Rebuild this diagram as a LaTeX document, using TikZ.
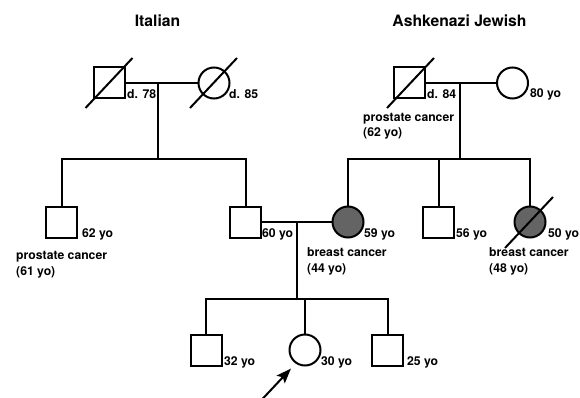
\documentclass[tikz,border=0pt]{standalone}
\usepackage{fontspec}
\setmainfont{TeX Gyre Heros}
\usetikzlibrary{calc,arrows.meta}
\definecolor{affected}{RGB}{100,100,100}
\tikzset{
  ln/.style={line width=2pt},
  male/.style={draw, ln, rectangle, minimum size=31pt, inner sep=0pt, fill=white},
  female/.style={draw, ln, circle, minimum size=31pt, inner sep=0pt, fill=white},
  aff/.style={fill=affected},
  lbl/.style={anchor=base west, inner sep=0pt, font=\fontsize{12.2}{14}\selectfont\bfseries},
  hdr/.style={anchor=base, inner sep=0pt, font=\fontsize{15.7}{18}\selectfont\bfseries},
  slash/.style={ln},
}
\begin{document}
\begin{tikzpicture}[x=1pt,y=-1pt]
\useasboundingbox (0,0) rectangle (580,398);

% headings
\node[hdr] (hIt) at (157.5,26.5) {Italian};
\node[hdr] (hAJ) at (459.5,27) {Ashkenazi Jewish};

% generation I
\node[male] (gf1) at (109.5,83) {};
\node[female] (gm1) at (214,83) {};
\node[male] (gf2) at (409,83) {};
\node[female] (gm2) at (512.5,83) {};

% generation II
\node[male] (u1) at (61.5,222) {};
\node[male] (fa) at (245.5,222) {};
\node[female,aff] (mo) at (348,222) {};
\node[male] (u2) at (438.5,222) {};
\node[female,aff] (au) at (530,222) {};

% generation III
\node[male] (c1) at (206,350) {};
\node[female] (pr) at (305,350) {};
\node[male] (c3) at (387.5,350) {};

% coordinates
\coordinate (m1) at (158,83);
\coordinate (s1) at (158,159);
\coordinate (m2) at (460,83);
\coordinate (s2) at (460,159);
\coordinate (m3) at (297,222);
\coordinate (s3) at (297,299);
\coordinate (arrstart) at (261.5,400);
\coordinate (arrtip) at (291,368.5);

% connectors
\draw[ln] (gf1.east) -- (gm1.west);
\draw[ln] (m1) -- (s1);
\draw[ln] (u1.north) |- (s1) -| (fa.north);

\draw[ln] (gf2.east) -- (gm2.west);
\draw[ln] (m2) -- (s2);
\draw[ln] (mo.north) |- (s2) -| (au.north);
\draw[ln] (u2.north) -- (u2.north |- s2);

\draw[ln] (fa.east) -- (mo.west);
\draw[ln] (m3) -- (s3);
\draw[ln] (c1.north) |- (s3) -| (c3.north);
\draw[ln] (pr.north) -- (pr.north |- s3);

% deceased slashes
\draw[slash] ($(gf1)+(-24,25)$) -- ($(gf1)+(23,-25)$);
\draw[slash] ($(gm1)+(-24,25)$) -- ($(gm1)+(23,-25)$);
\draw[slash] ($(gf2)+(-22,25)$) -- ($(gf2)+(25,-25)$);
\draw[slash] ($(au)+(-25,26)$) -- ($(au)+(23,-25)$);

% proband arrow
\draw[ln, -{Stealth[length=15pt,width=11pt,inset=3pt]}] (arrstart) -- (arrtip);

% labels
\node[lbl] (l1) at (127,99) {d. 78};
\node[lbl] (l2) at (229,99) {d. 85};
\node[lbl] (l3) at (427,99) {d. 84};
\node[lbl] (l4) at (530,98) {80 yo};
\node[lbl] (l5) at (363,121.5) {prostate cancer};
\node[lbl] (l6) at (363,137) {(62 yo)};

\node[lbl] (l7) at (82,237) {62 yo};
\node[lbl] (l8) at (16,259) {prostate cancer};
\node[lbl] (l9) at (16,275) {(61 yo)};
\node[lbl] (l10) at (262,237) {60 yo};
\node[lbl] (l11) at (364,237) {59 yo};
\node[lbl] (l12) at (307,256.5) {breast cancer};
\node[lbl] (l13) at (307,272) {(44 yo)};
\node[lbl] (l14) at (456,237) {56 yo};
\node[lbl] (l15) at (548,237) {50 yo};
\node[lbl] (l16) at (489,256) {breast cancer};
\node[lbl] (l17) at (489,272) {(48 yo)};

\node[lbl] (l18) at (224,365) {32 yo};
\node[lbl] (l19) at (321,365) {30 yo};
\node[lbl] (l20) at (407,365) {25 yo};
\end{tikzpicture}
\end{document}
